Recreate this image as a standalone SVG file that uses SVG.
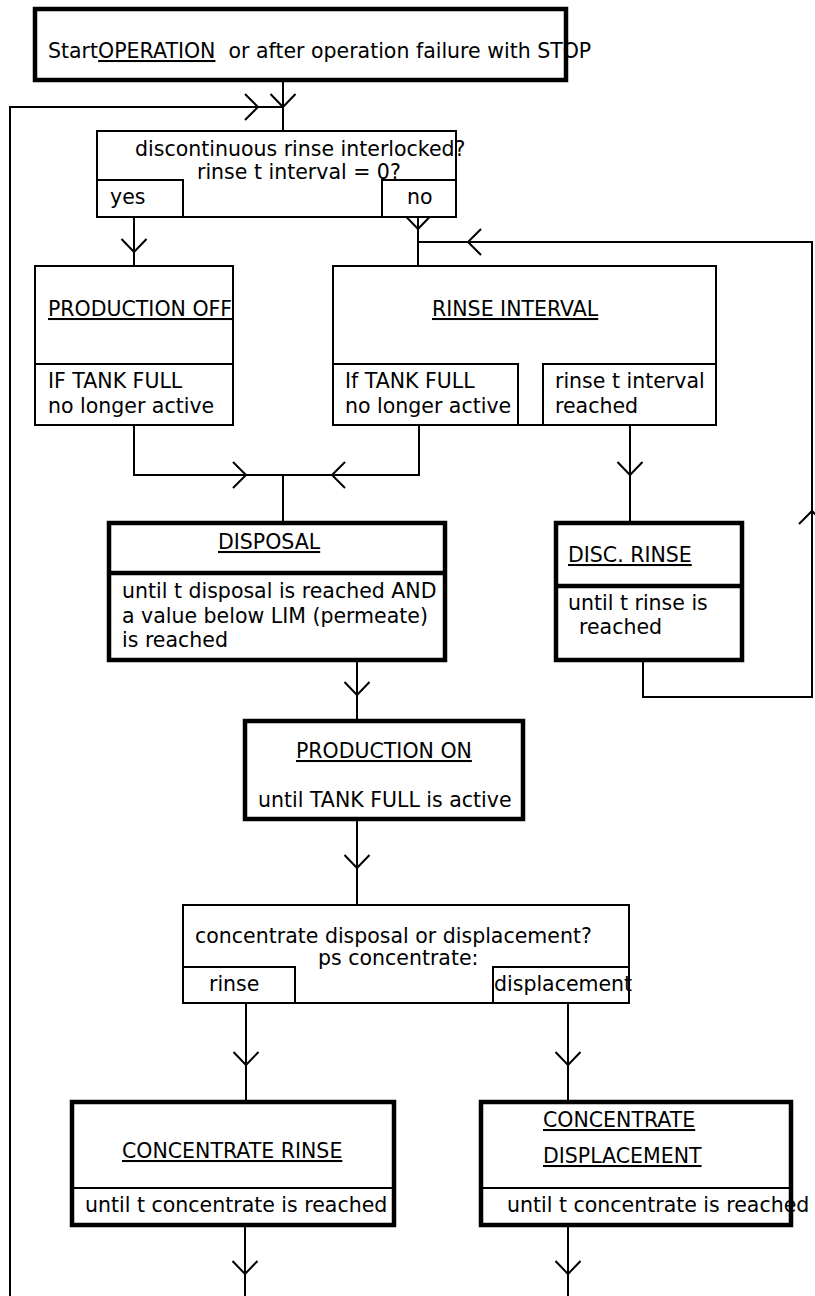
<svg xmlns="http://www.w3.org/2000/svg" xmlns:xlink="http://www.w3.org/1999/xlink" width="815" height="1296" viewBox="0 0 815 1296">
<style>
.t{font-family:"DejaVu Sans",Verdana,sans-serif;font-size:20.5px;fill:#000}
.u{text-decoration:underline}
.thin{fill:#fff;stroke:#000;stroke-width:2}
.thick{fill:#fff;stroke:#000;stroke-width:4.5}
.dv{fill:none;stroke:#000;stroke-width:2}
.dvk{fill:none;stroke:#000;stroke-width:4.5}
.c{fill:none;stroke:#000;stroke-width:2}
</style>
<defs>
<path id="ad" class="c" d="M-12.5,-13 L0,0 L12.5,-13"/>
<path id="ar" class="c" d="M-13,-13 L0,0 L-13,13"/>
<path id="al" class="c" d="M13,-13 L0,0 L13,13"/>
<path id="au" class="c" d="M-13,13 L0,0 L13,13"/>
</defs>
<rect width="815" height="1296" fill="#fff"/>
<g id="connectors">
<path class="c" d="M283,82 V131"/>
<path class="c" d="M10,1296 V107 H283"/>
<use href="#ad" x="283" y="107"/>
<use href="#ar" x="258" y="107"/>
<path class="c" d="M134,217 V266"/>
<use href="#ad" x="134" y="252"/>
<path class="c" d="M418,217 V266"/>
<use href="#ad" x="418" y="229"/>
<path class="c" d="M643,660 V697 H812 V242 H418"/>
<use href="#al" x="468" y="242"/>
<use href="#au" x="812" y="511"/>
<path class="c" d="M134,425 V475 H419 V425"/>
<use href="#ar" x="246" y="475"/>
<use href="#al" x="332" y="475"/>
<path class="c" d="M283,475 V523"/>
<path class="c" d="M630,425 V523"/>
<use href="#ad" x="630" y="475"/>
<path class="c" d="M357,660 V721"/>
<use href="#ad" x="357" y="695"/>
<path class="c" d="M357,819 V905"/>
<use href="#ad" x="357" y="868"/>
<path class="c" d="M246,1003 V1102"/>
<use href="#ad" x="246" y="1065"/>
<path class="c" d="M568,1003 V1102"/>
<use href="#ad" x="568" y="1065"/>
<path class="c" d="M245,1225 V1296"/>
<use href="#ad" x="245" y="1274"/>
<path class="c" d="M568,1225 V1296"/>
<use href="#ad" x="568" y="1274"/>
</g>
<g id="start">
<rect class="thick" x="35" y="9" width="531" height="71"/>
<text class="t" x="48" y="58" xml:space="preserve">Start<tspan class="u">OPERATION</tspan>  or after operation failure with STOP</text>
</g>
<g id="decision1">
<rect class="thin" x="97" y="131" width="359" height="86"/>
<text class="t" x="135" y="156">discontinuous rinse interlocked?</text>
<text class="t" x="197" y="179">rinse t interval = 0?</text>
<rect class="thin" x="97" y="180" width="86" height="37"/>
<text class="t" x="110" y="204">yes</text>
<rect class="thin" x="382" y="180" width="74" height="37"/>
<text class="t" x="407" y="204">no</text>
</g>
<g id="production-off">
<rect class="thin" x="35" y="266" width="198" height="159"/>
<path class="dv" d="M35,364 H233"/>
<text class="t u" x="48" y="316">PRODUCTION OFF</text>
<text class="t" x="48" y="388">IF TANK FULL</text>
<text class="t" x="48" y="413">no longer active</text>
</g>
<g id="rinse-interval">
<rect class="thin" x="333" y="266" width="383" height="159"/>
<text class="t u" x="432" y="316">RINSE INTERVAL</text>
<rect class="thin" x="333" y="364" width="185" height="61"/>
<text class="t" x="345" y="388">If TANK FULL</text>
<text class="t" x="345" y="413">no longer active</text>
<rect class="thin" x="543" y="364" width="173" height="61"/>
<text class="t" x="555" y="388">rinse t interval</text>
<text class="t" x="555" y="413">reached</text>
</g>
<g id="disposal">
<rect class="thick" x="109" y="523" width="336" height="137"/>
<path class="dvk" d="M109,573 H445"/>
<text class="t u" x="218" y="549">DISPOSAL</text>
<text class="t" x="122" y="598">until t disposal is reached AND</text>
<text class="t" x="122" y="623">a value below LIM (permeate)</text>
<text class="t" x="122" y="647">is reached</text>
</g>
<g id="disc-rinse">
<rect class="thick" x="556" y="523" width="186" height="137"/>
<path class="dvk" d="M556,586 H742"/>
<text class="t u" x="568" y="562">DISC. RINSE</text>
<text class="t" x="568" y="610">until t rinse is</text>
<text class="t" x="579" y="634">reached</text>
</g>
<g id="production-on">
<rect class="thick" x="245" y="721" width="278" height="98"/>
<text class="t u" x="296" y="758">PRODUCTION ON</text>
<text class="t" x="258" y="807">until TANK FULL is active</text>
</g>
<g id="decision2">
<rect class="thin" x="183" y="905" width="446" height="98"/>
<text class="t" x="195" y="943">concentrate disposal or displacement?</text>
<text class="t" x="318" y="965">ps concentrate:</text>
<rect class="thin" x="183" y="967" width="112" height="36"/>
<text class="t" x="209" y="991">rinse</text>
<rect class="thin" x="493" y="967" width="136" height="36"/>
<text class="t" x="494" y="991">displacement</text>
</g>
<g id="concentrate-rinse">
<rect class="thick" x="72" y="1102" width="322" height="123"/>
<path class="dv" d="M72,1188 H394"/>
<text class="t u" x="122" y="1158">CONCENTRATE RINSE</text>
<text class="t" x="85" y="1212">until t concentrate is reached</text>
</g>
<g id="concentrate-displacement">
<rect class="thick" x="481" y="1102" width="310" height="123"/>
<path class="dv" d="M481,1188 H791"/>
<text class="t u" x="543" y="1127">CONCENTRATE</text>
<text class="t u" x="543" y="1163">DISPLACEMENT</text>
<text class="t" x="507" y="1212">until t concentrate is reached</text>
</g>
</svg>
